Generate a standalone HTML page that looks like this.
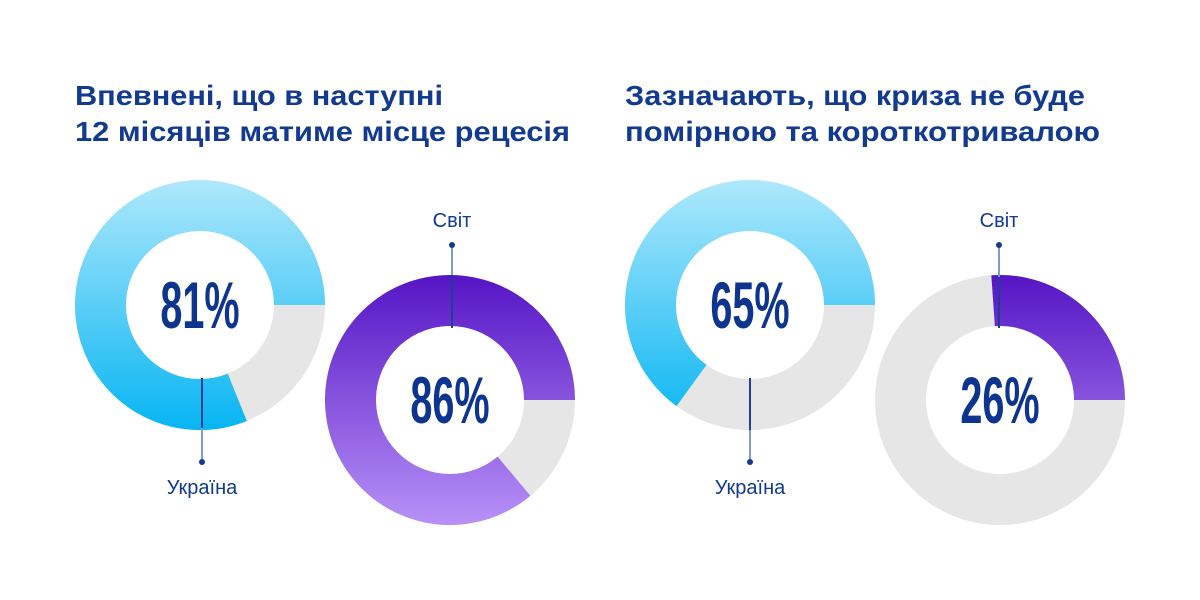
<!DOCTYPE html>
<html><head><meta charset="utf-8"><style>
html,body{margin:0;padding:0;background:#fff;width:1200px;height:600px;overflow:hidden}
</style></head><body>
<svg width="1200" height="600" viewBox="0 0 1200 600" xmlns="http://www.w3.org/2000/svg" font-family="Liberation Sans, sans-serif">
<defs>
<linearGradient id="t1" gradientUnits="userSpaceOnUse" x1="0" y1="180" x2="0" y2="430"><stop offset="0" stop-color="#aee8fc"/><stop offset="1" stop-color="#07b5f2"/></linearGradient>
<linearGradient id="t3" gradientUnits="userSpaceOnUse" x1="0" y1="180" x2="0" y2="430"><stop offset="0" stop-color="#aee8fc"/><stop offset="1" stop-color="#07b5f2"/></linearGradient>
<linearGradient id="p2" gradientUnits="userSpaceOnUse" x1="0" y1="275" x2="0" y2="525"><stop offset="0" stop-color="#5515c4"/><stop offset="1" stop-color="#b891f7"/></linearGradient>
</defs>
<g fill="#123a8f" font-weight="bold" font-size="28">
<text x="75" y="105" textLength="368" lengthAdjust="spacingAndGlyphs">Впевнені, що в наступні</text>
<text x="75" y="141" textLength="495" lengthAdjust="spacingAndGlyphs">12 місяців матиме місце рецесія</text>
<text x="625" y="105" textLength="460" lengthAdjust="spacingAndGlyphs">Зазначають, що криза не буде</text>
<text x="625" y="141" textLength="475" lengthAdjust="spacingAndGlyphs">помірною та короткотривалою</text>
</g>
<g fill="none" stroke-width="51">
<circle cx="200" cy="305" r="99.5" stroke="#e6e6e6"/>
<path d="M237.3 397.3 A99.5 99.5 0 1 1 299.5 305" stroke="url(#t1)"/>
<circle cx="450" cy="400" r="99.5" stroke="#e6e6e6"/>
<path d="M514 476.2 A99.5 99.5 0 1 1 549.5 400" stroke="url(#p2)"/>
<circle cx="750" cy="305" r="99.5" stroke="#e6e6e6"/>
<path d="M691.5 385.5 A99.5 99.5 0 1 1 849.5 305" stroke="url(#t3)"/>
<circle cx="1000" cy="400" r="99.5" stroke="#e6e6e6"/>
<path d="M993.1 300.7 A99.5 99.5 0 0 1 1099.5 400" stroke="url(#p2)"/>
</g>
<g stroke-width="2">
<line x1="452" y1="245" x2="452" y2="275" stroke="#7f9bd0"/><line x1="452" y1="275" x2="452" y2="328" stroke="#1d3f94"/>
<line x1="202" y1="378" x2="202" y2="428" stroke="#1d3f94"/><line x1="202" y1="428" x2="202" y2="462" stroke="#7f9bd0"/>
<line x1="999" y1="245" x2="999" y2="277" stroke="#7f9bd0"/><line x1="999" y1="277" x2="999" y2="328" stroke="#1d3f94"/>
<line x1="750" y1="378" x2="750" y2="430" stroke="#1d3f94"/><line x1="750" y1="430" x2="750" y2="462" stroke="#7f9bd0"/>
</g>
<g fill="#123a8f">
<circle cx="452" cy="245" r="3"/><circle cx="202" cy="462" r="3"/><circle cx="999" cy="245" r="3"/><circle cx="750" cy="462" r="3"/>
</g>
<g fill="#123a8f" font-size="20" text-anchor="middle">
<text x="452" y="227">Світ</text>
<text x="202" y="494">Україна</text>
<text x="999" y="227">Світ</text>
<text x="750" y="494">Україна</text>
</g>
<g fill="#0d3590" font-weight="bold" font-size="66" text-anchor="middle">
<text transform="translate(200 328) scale(0.6 1)">81%</text>
<text transform="translate(450 423) scale(0.6 1)">86%</text>
<text transform="translate(750 328) scale(0.6 1)">65%</text>
<text transform="translate(1000 423) scale(0.6 1)">26%</text>
</g>
</svg>
</body></html>
